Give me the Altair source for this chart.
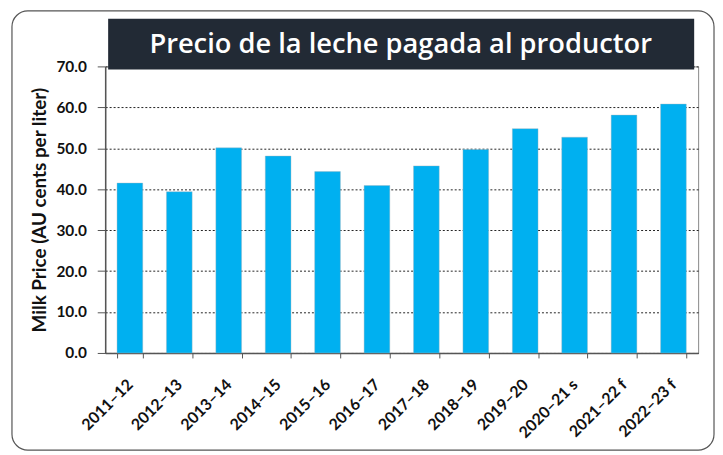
import altair as alt
import pandas as pd

years = ["2011–12", "2012–13", "2013–14", "2014–15", "2015–16", "2016–17",
         "2017–18", "2018–19", "2019–20", "2020–21 s", "2021–22 f", "2022–23 f"]
prices = [41.5, 39.4, 50.1, 48.1, 44.3, 40.9, 45.7, 49.7, 54.8, 52.7, 58.1, 60.8]
title_text = "Precio de la leche pagada al productor"
y_title = "Milk Price (AU cents per liter)"

df = pd.DataFrame({"year": years, "price": prices})
one = pd.DataFrame({"k": [0]})

W, H = 598, 289

bars = alt.Chart(df).mark_bar(color="#00b0f0", stroke="#9fb3bd", strokeWidth=0.4).encode(
    x=alt.X("year:N", sort=years, title=None,
            scale=alt.Scale(paddingInner=0.48, paddingOuter=0.24),
            axis=alt.Axis(labelAngle=-45, labelFont="Lato", labelFontWeight="bold",
                          labelFontSize=16, labelColor="#111", labelPadding=24,
                          labelAlign="right", labelBaseline="middle",
                          tickBand="extent", tickSize=5, tickColor="#555",
                          domainColor="#555", domainWidth=1.5, grid=False)),
    y=alt.Y("price:Q", title=y_title,
            scale=alt.Scale(domain=[0, 70], nice=False),
            axis=alt.Axis(values=[0, 10, 20, 30, 40, 50, 60, 70], format=".1f",
                          labelFont="Lato", labelFontWeight="bold", labelFontSize=15.5,
                          labelColor="#111", labelPadding=11, tickSize=8, tickColor="#555",
                          domainColor="#555", domainWidth=1.5,
                          grid=True, gridColor="#222", gridDash=[2, 2], gridWidth=1,
                          titleFont="Lato", titleFontWeight="bold", titleFontSize=19,
                          titleColor="#111", titlePadding=7)),
)

border = alt.Chart(one).mark_rect(filled=False, stroke="#555", strokeWidth=1.2,
                                  cornerRadius=16).encode(
    x=alt.value(-94), x2=alt.value(614), y=alt.value(-56), y2=alt.value(387))

title_box = alt.Chart(one).mark_rect(color="#222a35").encode(
    x=alt.value(3), x2=alt.value(594), y=alt.value(-48), y2=alt.value(3))

title = alt.Chart(one).mark_text(text=title_text, color="white", font="Open Sans",
                                 fontWeight=600, fontSize=27.5, align="center",
                                 baseline="middle").encode(
    x=alt.value(298), y=alt.value(-22))

chart = alt.layer(border, bars, title_box, title).properties(
    width=W, height=H,
    autosize=alt.AutoSizeParams(type="none"),
    padding={"left": 98, "top": 57, "right": 17, "bottom": 101},
).configure_view(stroke="#888", strokeWidth=1)

chart.save("out.html", embed_options={"renderer": "svg", "actions": False})
